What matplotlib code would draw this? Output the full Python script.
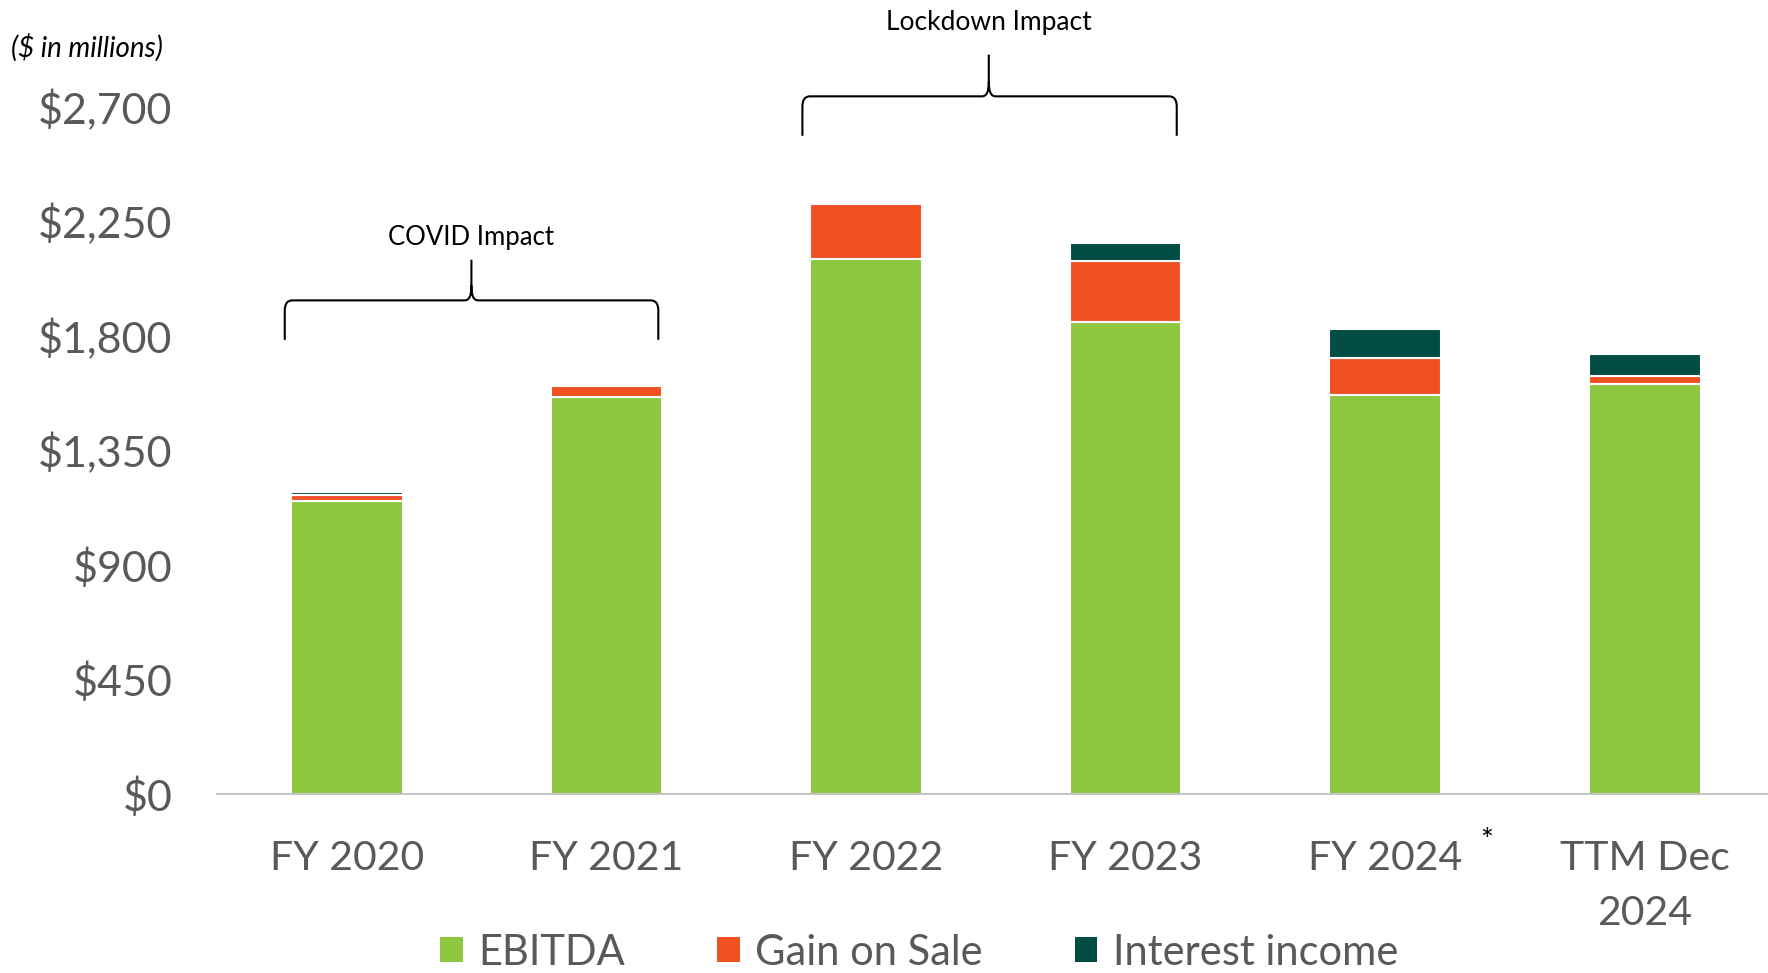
import matplotlib.pyplot as plt
from matplotlib.patches import Patch, PathPatch
from matplotlib.path import Path
from matplotlib.transforms import IdentityTransform

# EBITDA build-up, $ in millions
periods = ["FY 2020", "FY 2021", "FY 2022", "FY 2023", "FY 2024", "TTM Dec\n2024"]
ebitda = [1150, 1559, 2104, 1856, 1567, 1611]
gain_on_sale = [26, 46, 216, 240, 146, 32]
interest_income = [12, 0, 0, 69, 116, 85]
y_ticks = [0, 450, 900, 1350, 1800, 2250, 2700]

GREEN = "#8DC63F"
ORANGE = "#F05123"
DARK = "#024D43"
GRAY = "#595959"
FONT = "Lato"

plt.rcParams["font.family"] = [FONT, "DejaVu Sans"]

fig = plt.figure(figsize=(17.68, 9.73), dpi=100)
ax = fig.add_axes([217 / 1768, 0.184, 1557.6 / 1768, 0.706])

x = list(range(len(periods)))
w = 0.43
bar_kw = dict(width=w, edgecolor="white", linewidth=1.5)
ax.bar(x, ebitda, color=GREEN, label="EBITDA", **bar_kw)
base = list(ebitda)
ax.bar(x, gain_on_sale, bottom=base, color=ORANGE, label="Gain on Sale", **bar_kw)
base = [b + g for b, g in zip(base, gain_on_sale)]
ax.bar([i for i, v in zip(x, interest_income) if v > 0],
       [v for v in interest_income if v > 0],
       bottom=[b for b, v in zip(base, interest_income) if v > 0],
       color=DARK, label="Interest income", **bar_kw)

ax.set_xlim(-0.5, 5.5)
ax.set_ylim(0, 2700)
ax.set_yticks(y_ticks)
ax.set_yticklabels([f"${v:,}" for v in y_ticks])
ax.set_xticks(x)
ax.set_xticklabels(periods, linespacing=1.62)
ax.tick_params(axis="y", length=0, pad=32, labelsize=31, labelcolor=GRAY)
ax.tick_params(axis="x", length=0, pad=33, labelsize=29.5, labelcolor=GRAY)
for side in ["top", "right", "left"]:
    ax.spines[side].set_visible(False)
ax.spines["bottom"].set_color("#BFBFBF")
ax.spines["bottom"].set_linewidth(1.3)


def curly_bracket(x0, x1, xm, y_base, y_line, y_tip, rx=8, ry=11, sx=7, sy=15):
    # build the brace in pixels so the rounded corners stay round
    to_px = ax.transData.transform
    (px0, pb), (px1, pl), (pm, pt) = to_px([(x0, y_base), (x1, y_line), (xm, y_tip)])
    verts = [
        (px0, pb), (px0, pl - ry),
        (px0, pl - ry * 0.3), (px0 + rx * 0.3, pl), (px0 + rx, pl),
        (pm - sx, pl),
        (pm - sx * 0.3, pl), (pm, pl + sy * 0.3), (pm, pl + sy),
        (pm, pt),
        (pm, pl + sy),
        (pm, pl + sy * 0.3), (pm + sx * 0.3, pl), (pm + sx, pl),
        (px1 - rx, pl),
        (px1 - rx * 0.3, pl), (px1, pl - ry * 0.3), (px1, pl - ry),
        (px1, pb),
    ]
    codes = [Path.MOVETO, Path.LINETO,
             Path.CURVE4, Path.CURVE4, Path.CURVE4,
             Path.LINETO,
             Path.CURVE4, Path.CURVE4, Path.CURVE4,
             Path.LINETO,
             Path.MOVETO,
             Path.CURVE4, Path.CURVE4, Path.CURVE4,
             Path.LINETO,
             Path.CURVE4, Path.CURVE4, Path.CURVE4,
             Path.LINETO]
    fig.patches.append(PathPatch(Path(verts, codes), transform=IdentityTransform(),
                                 facecolor="none", edgecolor="black", linewidth=1.5))


curly_bracket(-0.239, 1.2, 0.48, 1785, 1940, 2100)
ax.text(0.48, 2186, "COVID Impact", ha="center", va="center", fontsize=18.5,
        color="black", clip_on=False)
curly_bracket(1.755, 3.197, 2.473, 2587, 2742, 2906)
ax.text(2.473, 3032, "Lockdown Impact", ha="center", va="center", fontsize=19,
        color="black", clip_on=False)

ax.text(4.39, -185, "*", ha="center", va="center", fontsize=22, color="black",
        clip_on=False)

fig.text(11 / 1768, 1 - 48 / 973, "($ in millions)", ha="left", va="center",
         fontsize=20, style="italic", color="black")

handles = [Patch(facecolor=GREEN, label="EBITDA"),
           Patch(facecolor=ORANGE, label="Gain on Sale"),
           Patch(facecolor=DARK, label="Interest income")]
leg = fig.legend(handles=handles, loc="center", bbox_to_anchor=(0.52, 0.021),
                 ncol=3, frameon=False, fontsize=30, handlelength=0.54,
                 handleheight=0.54, handletextpad=0.38, columnspacing=2.2,
                 borderpad=0)
for t in leg.get_texts():
    t.set_color(GRAY)

fig.savefig("out.png", dpi=100)
